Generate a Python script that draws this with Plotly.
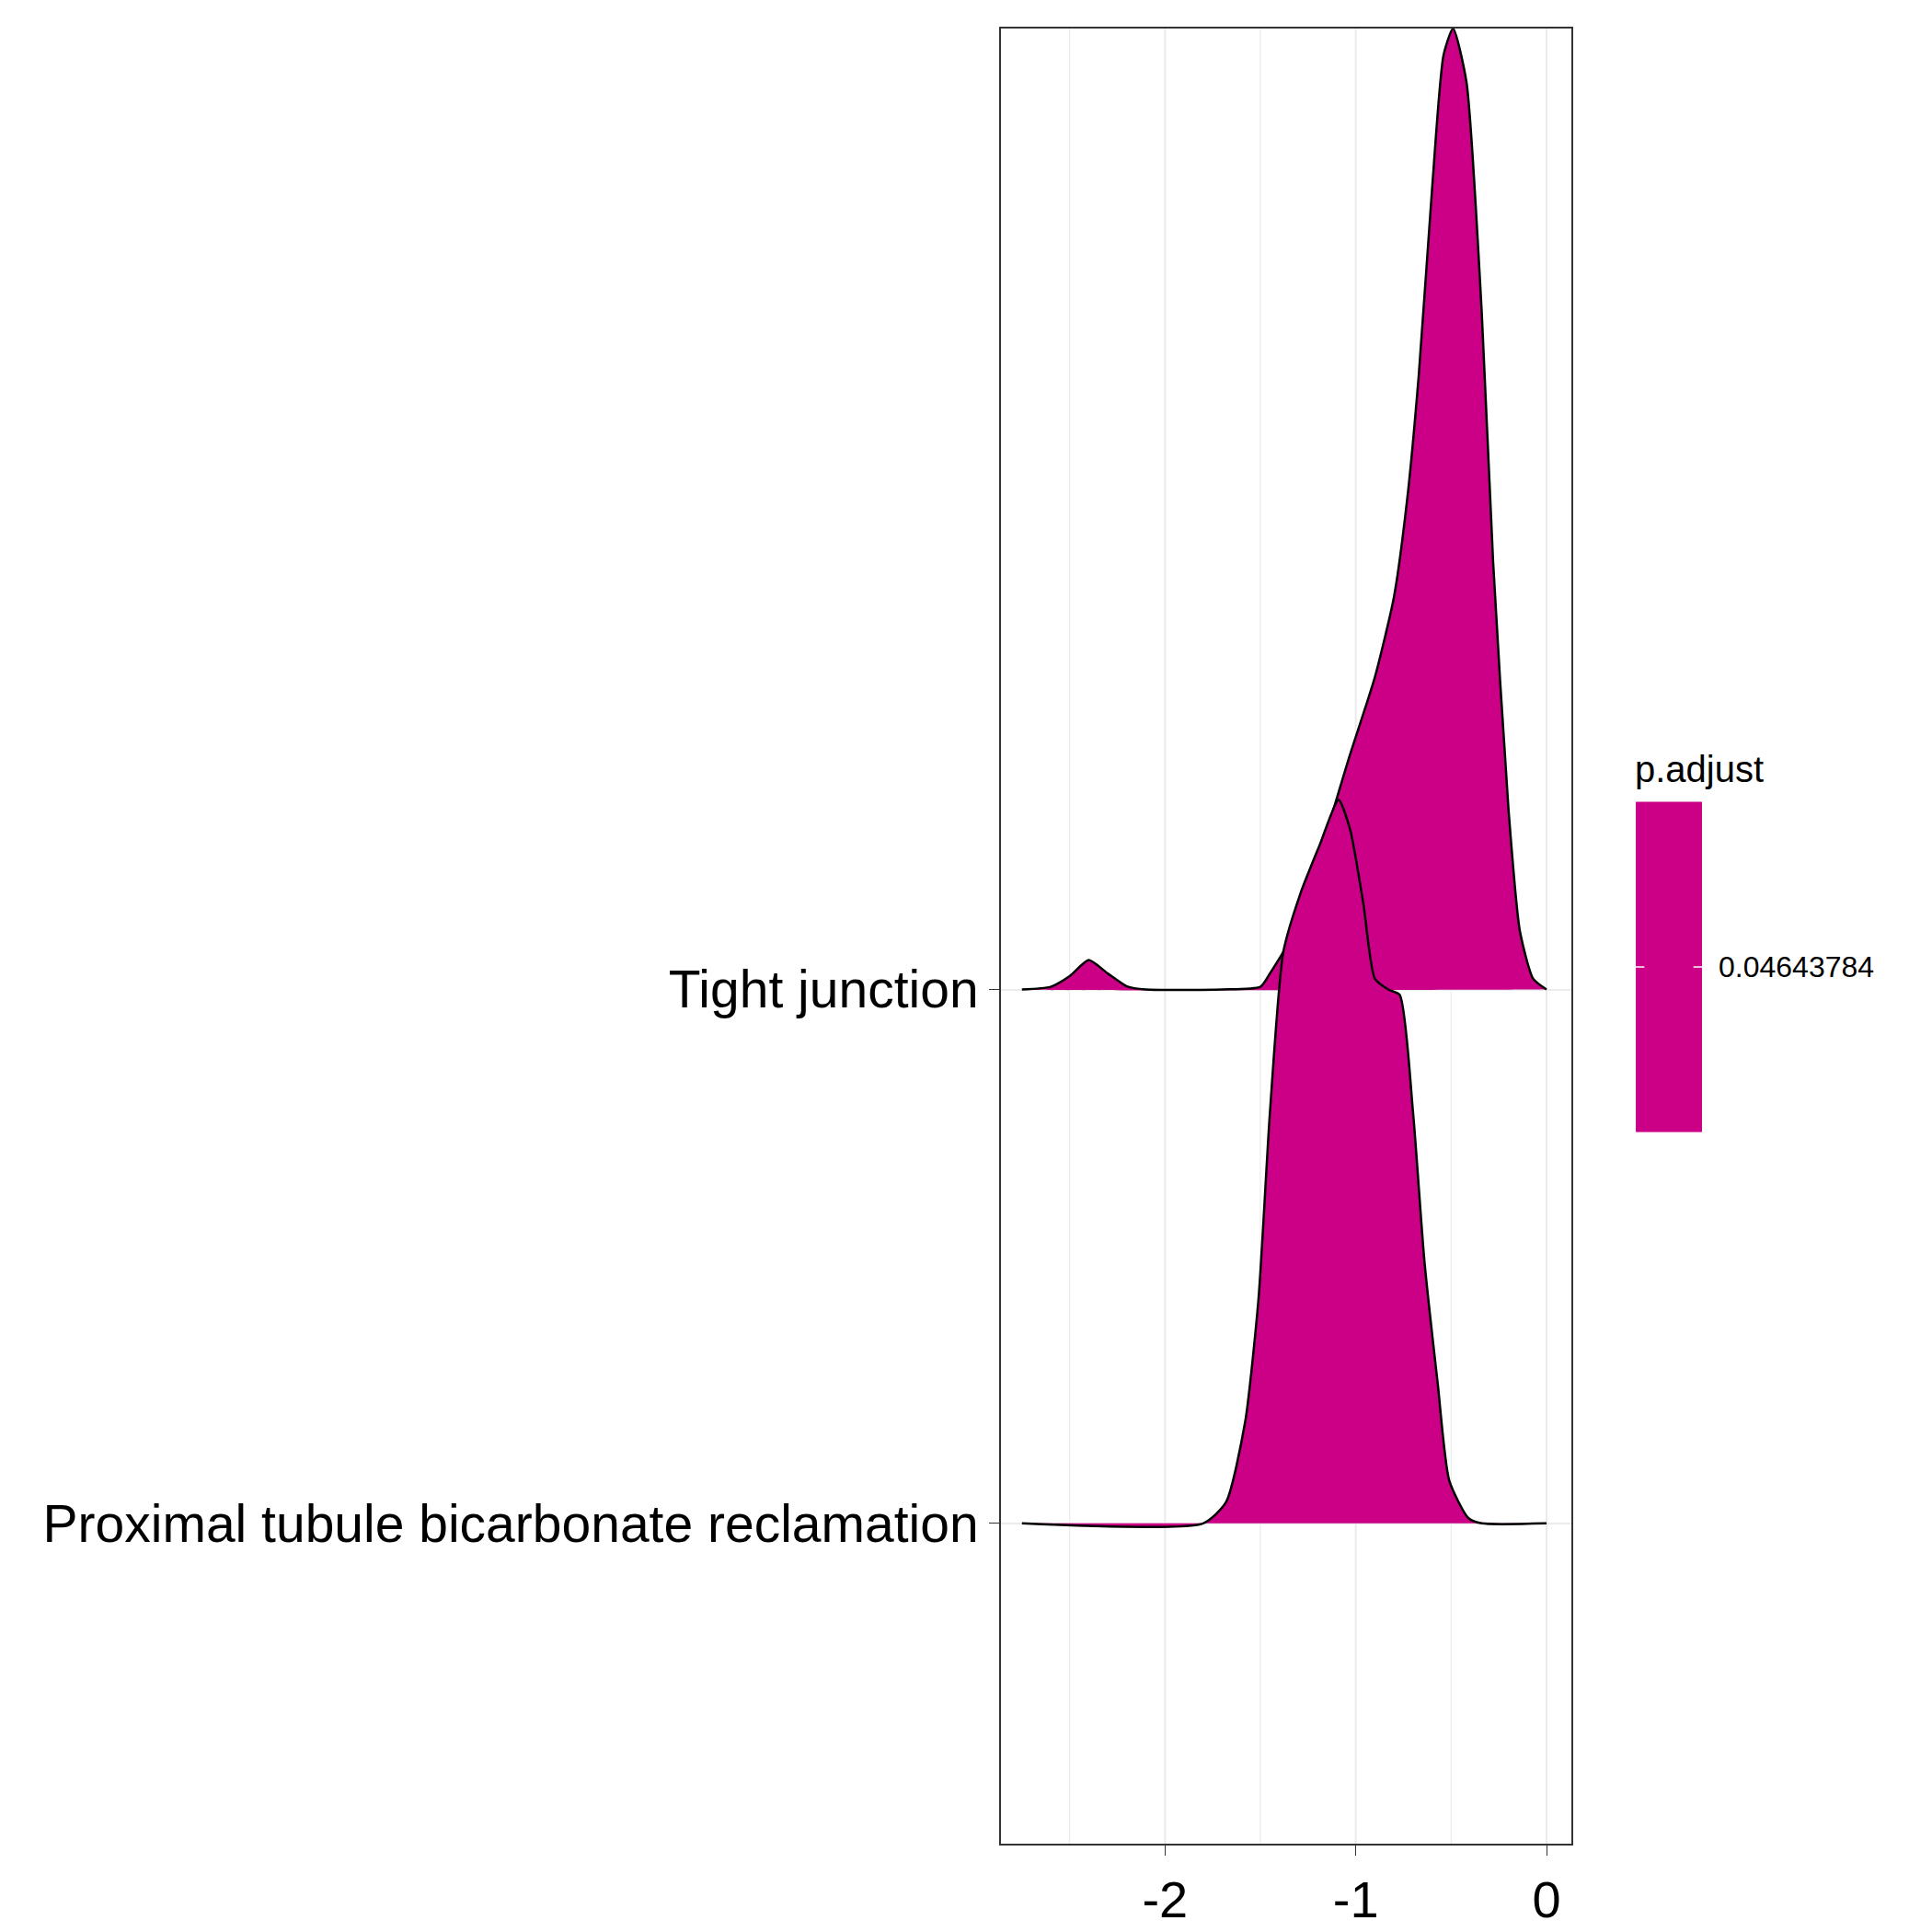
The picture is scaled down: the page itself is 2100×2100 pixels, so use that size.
import plotly.graph_objects as go

# ridge densities (x = value, h = height in row units)
categories = ["Proximal tubule bicarbonate reclamation", "Tight junction"]

tj_x = [-2.75, -2.6, -2.5, -2.4, -2.3, -2.2, -2.1, -1.7, -1.5, -1.45, -1.32, -1.03, -0.9, -0.8,
        -0.73, -0.67, -0.6, -0.54, -0.49, -0.42, -0.34, -0.28, -0.2, -0.14, -0.07, 0.0]
tj_h = [0.0, 0.005, 0.025, 0.055, 0.03, 0.006, 0.0, 0.0, 0.005, 0.03, 0.11, 0.44, 0.585, 0.735,
        0.92, 1.15, 1.5, 1.75, 1.8, 1.7, 1.27, 0.8, 0.34, 0.11, 0.02, 0.0]

pt_x = [-2.75, -1.8, -1.68, -1.58, -1.51, -1.45, -1.38, -1.29, -1.19, -1.09, -1.03, -0.96, -0.9,
        -0.83, -0.77, -0.7, -0.64, -0.57, -0.51, -0.41, -0.34, 0.0]
pt_h = [0.0, 0.0, 0.04, 0.19, 0.42, 0.77, 1.07, 1.18, 1.27, 1.355, 1.3, 1.16, 1.02,
        1.0, 0.99, 0.77, 0.49, 0.26, 0.08, 0.01, 0.0, 0.0]

p_adjust = "0.04643784"
fill = "#CB0087"

fig = go.Figure()
for base, xs, hs in [(2, tj_x, tj_h), (1, pt_x, pt_h)]:
    fig.add_trace(go.Scatter(x=xs + [xs[-1], xs[0]], y=[base + h for h in hs] + [base, base],
                             fill="toself", fillcolor=fill, mode="none", showlegend=False,
                             line=dict(shape="spline", smoothing=0.6), hoverinfo="skip"))
    fig.add_trace(go.Scatter(x=xs, y=[base + h for h in hs], mode="lines",
                             line=dict(color="black", width=2.5, shape="spline", smoothing=0.6),
                             showlegend=False))

fig.update_layout(
    width=2100, height=2100, plot_bgcolor="white", paper_bgcolor="white",
    margin=dict(l=1080, r=400, t=23, b=90),
    font=dict(family="Liberation Sans", color="black"),
    xaxis=dict(range=[-2.86, 0.13], tickvals=[-2, -1, 0], ticktext=["-2", "-1", "0"],
               tickfont=dict(size=56), ticks="outside", ticklen=11, tickcolor="#333",
               showgrid=False, zeroline=False, showline=True, linecolor="#333", mirror=True,
               linewidth=2),
    yaxis=dict(range=[0.40, 3.80], tickvals=[1, 2], ticktext=categories,
               tickfont=dict(size=57), ticks="outside", ticklen=11, tickcolor="#333",
               showgrid=True, gridcolor="#EBEBEB", gridwidth=2, zeroline=False,
               showline=True, linecolor="#333", mirror=True, linewidth=2),
)
for v in [-2.5, -2, -1.5, -1, -0.5, 0]:
    fig.add_shape(type="line", x0=v, x1=v, y0=0, y1=1, xref="x", yref="paper", layer="below",
                  line=dict(color="#EBEBEB", width=2 if v % 1 == 0 else 1.2))

# single-value colour legend (paper coords relative to plot domain)
fig.add_shape(type="rect", xref="paper", yref="paper", x0=1.113, x1=1.229, y0=0.392, y1=0.574,
              fillcolor=fill, line=dict(width=0))
for xa, xb in [(1.113, 1.128), (1.214, 1.229)]:
    fig.add_shape(type="line", xref="paper", yref="paper", x0=xa, x1=xb, y0=0.483, y1=0.483,
                  line=dict(color="white", width=1.5))
fig.add_annotation(xref="paper", yref="paper", x=1.255, y=0.483, text=p_adjust, showarrow=False,
                   xanchor="left", font=dict(size=32))
fig.add_annotation(xref="paper", yref="paper", x=1.108, y=0.580, text="p.adjust", showarrow=False,
                   xanchor="left", yanchor="bottom", font=dict(size=40))

fig.write_html("out.html")
